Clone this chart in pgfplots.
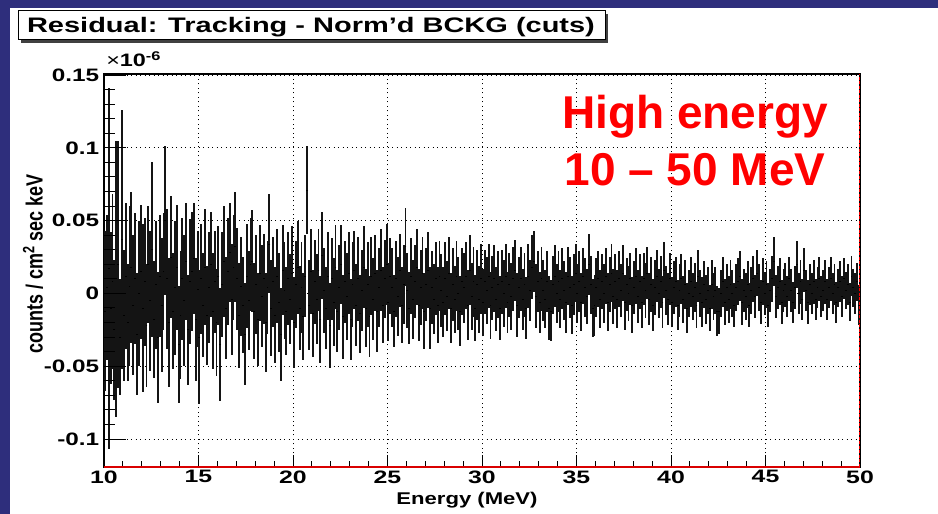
\documentclass[border=0pt]{standalone}
\usepackage{pgfplots}
\pgfplotsset{compat=1.18}
\usepackage{fontspec}
\setmainfont{Liberation Sans}
\definecolor{navy}{RGB}{46,46,124}
\pgfplotstableread{
x y e
10.05 -0.012 0.055
10.15 0.004 0.050
10.25 0.017 0.124
10.35 -0.010 0.052
10.45 0.008 0.060
10.55 -0.025 0.048
10.65 0.010 0.095
10.75 0.020 0.085
10.85 -0.030 0.040
10.95 0.037 0.089
11.05 -0.015 0.045
11.15 0.012 0.050
11.25 -0.020 0.040
11.35 0.005 0.055
11.45 0.018 0.052
11.55 -0.008 0.048
11.65 0.010 0.045
11.75 -0.028 0.042
11.85 0.000 0.050
11.95 0.015 0.046
12.05 -0.010 0.058
12.15 0.008 0.044
12.25 -0.022 0.042
12.35 0.020 0.040
12.45 -0.005 0.048
12.55 0.030 0.060
12.65 -0.018 0.040
12.75 0.006 0.044
12.85 -0.030 0.045
12.95 0.012 0.042
13.05 -0.008 0.046
13.15 0.015 0.040
13.25 0.050 0.051
13.35 0.010 0.048
13.45 -0.020 0.044
13.55 0.025 0.042
13.65 -0.012 0.040
13.75 0.004 0.046
13.85 0.018 0.043
13.95 -0.035 0.040
14.05 -0.015 0.044
14.15 0.010 0.042
14.25 -0.005 0.045
14.35 0.022 0.040
14.45 -0.025 0.038
14.55 0.008 0.043
14.65 0.015 0.041
14.75 0.024 0.038
14.85 -0.018 0.042
14.95 0.003 0.040
15.05 -0.030 0.046
15.15 0.010 0.038
15.25 -0.008 0.036
15.35 0.018 0.040
15.45 -0.015 0.034
15.55 0.004 0.038
15.65 0.020 0.036
15.75 -0.012 0.040
15.85 0.008 0.035
15.95 -0.020 0.037
16.05 0.012 0.034
16.15 -0.035 0.039
16.25 0.006 0.036
16.35 0.022 0.038
16.45 -0.010 0.035
16.55 0.015 0.037
16.65 0.028 0.034
16.75 -0.004 0.038
16.85 0.018 0.036
16.95 0.032 0.038
17.05 0.010 0.035
17.15 -0.015 0.036
17.25 0.005 0.034
17.35 -0.008 0.033
17.45 -0.028 0.035
17.55 0.012 0.036
17.65 -0.005 0.034
17.75 0.020 0.032
17.85 0.022 0.035
17.95 -0.012 0.033
18.05 0.006 0.034
18.15 -0.018 0.032
18.25 0.014 0.033
18.35 -0.002 0.035
18.45 0.010 0.031
18.55 -0.020 0.034
18.65 0.004 0.032
18.75 0.034 0.034
18.85 -0.010 0.033
18.95 0.008 0.031
19.05 -0.015 0.033
19.15 0.012 0.032
19.25 -0.006 0.034
19.35 -0.028 0.032
19.45 0.016 0.031
19.55 0.002 0.033
19.65 -0.012 0.030
19.75 0.010 0.032
19.85 -0.004 0.031
19.95 0.014 0.032
20.05 -0.020 0.031
20.15 0.006 0.030
20.25 0.018 0.032
20.35 -0.010 0.029
20.45 0.004 0.031
20.55 -0.016 0.030
20.65 0.012 0.028
20.75 0.071 0.030
20.85 -0.008 0.031
20.95 0.015 0.029
21.05 -0.014 0.030
21.15 0.008 0.029
21.25 -0.004 0.031
21.35 0.016 0.028
21.45 -0.018 0.030
21.55 0.026 0.030
21.65 0.002 0.029
21.75 -0.010 0.028
21.85 0.012 0.030
21.95 -0.022 0.029
22.05 0.010 0.028
22.15 -0.006 0.030
22.25 0.018 0.029
22.35 -0.012 0.028
22.45 0.004 0.029
22.55 0.020 0.027
22.65 -0.016 0.029
22.75 0.008 0.028
22.85 -0.002 0.030
22.95 0.014 0.028
23.05 -0.018 0.028
23.15 0.006 0.029
23.25 0.016 0.027
23.35 -0.008 0.028
23.45 0.010 0.029
23.55 -0.014 0.027
23.65 0.002 0.028
23.75 0.018 0.028
23.85 -0.010 0.027
23.95 0.006 0.029
24.05 -0.016 0.028
24.15 0.012 0.027
24.25 -0.004 0.028
24.35 0.014 0.026
24.45 -0.012 0.028
24.55 0.004 0.027
24.65 0.016 0.028
24.75 -0.008 0.026
24.85 0.010 0.027
24.95 0.020 0.028
25.05 -0.006 0.027
25.15 0.012 0.026
25.25 0.004 0.027
25.35 -0.012 0.025
25.45 0.010 0.026
25.55 -0.002 0.027
25.65 0.016 0.025
25.75 -0.008 0.026
25.85 0.006 0.027
25.95 0.032 0.027
26.05 0.002 0.026
26.15 -0.010 0.025
26.25 0.012 0.026
26.35 -0.004 0.027
26.45 0.008 0.025
26.55 0.018 0.026
26.65 -0.008 0.025
26.75 0.004 0.026
26.85 0.014 0.025
26.95 -0.012 0.026
27.05 0.006 0.025
27.15 0.016 0.026
27.25 -0.010 0.028
27.35 0.004 0.025
27.45 -0.004 0.024
27.55 0.010 0.025
27.65 -0.008 0.026
27.75 0.012 0.024
27.85 0.002 0.025
27.95 -0.006 0.024
28.05 0.010 0.025
28.15 -0.002 0.024
28.25 0.014 0.025
28.35 -0.010 0.024
28.45 0.006 0.025
28.55 -0.004 0.023
28.65 0.012 0.024
28.75 0.000 0.025
28.85 -0.012 0.024
28.95 0.008 0.023
29.05 0.004 0.024
29.15 0.012 0.023
29.25 -0.008 0.024
29.35 0.016 0.024
29.45 -0.002 0.023
29.55 0.008 0.024
29.65 -0.010 0.023
29.75 0.006 0.024
29.85 -0.004 0.023
29.95 0.010 0.024
30.05 -0.006 0.023
30.15 0.008 0.022
30.25 0.002 0.023
30.35 0.012 0.022
30.45 -0.008 0.023
30.55 0.004 0.022
30.65 0.010 0.023
30.75 -0.004 0.022
30.85 0.006 0.023
30.95 -0.010 0.022
31.05 0.008 0.022
31.15 0.000 0.023
31.25 0.012 0.022
31.35 -0.006 0.021
31.45 0.006 0.022
31.55 -0.002 0.023
31.65 0.010 0.022
31.75 0.016 0.021
31.85 -0.008 0.022
31.95 0.004 0.021
32.05 0.010 0.022
32.15 -0.004 0.021
32.25 0.006 0.022
32.35 -0.010 0.021
32.45 0.012 0.022
32.55 0.002 0.021
32.65 0.018 0.022
32.75 0.022 0.021
32.85 -0.002 0.022
32.95 0.008 0.021
33.05 -0.006 0.021
33.15 0.010 0.022
33.25 0.002 0.021
33.35 -0.004 0.020
33.45 0.008 0.021
33.55 -0.010 0.022
33.65 -0.012 0.021
33.75 0.006 0.020
33.85 0.012 0.021
33.95 0.000 0.020
34.05 0.008 0.021
34.15 -0.004 0.020
34.25 0.010 0.021
34.35 0.002 0.020
34.45 -0.006 0.021
34.55 0.012 0.020
34.65 0.004 0.021
34.75 -0.008 0.020
34.85 0.006 0.021
34.95 0.014 0.020
35.05 0.000 0.020
35.15 0.008 0.021
35.25 -0.006 0.020
35.35 0.012 0.019
35.45 0.004 0.020
35.55 -0.002 0.019
35.65 0.020 0.021
35.75 0.006 0.020
35.85 -0.010 0.020
35.95 -0.008 0.021
36.05 0.004 0.020
36.15 0.010 0.019
36.25 -0.004 0.020
36.35 0.008 0.019
36.45 0.000 0.020
36.55 0.012 0.019
36.65 -0.006 0.020
36.75 0.006 0.019
36.85 0.014 0.020
36.95 -0.002 0.019
37.05 0.008 0.019
37.15 -0.004 0.020
37.25 0.010 0.019
37.35 0.002 0.018
37.45 0.014 0.019
37.55 -0.006 0.019
37.65 0.006 0.018
37.75 0.000 0.019
37.85 0.010 0.018
37.95 -0.008 0.019
38.05 0.004 0.018
38.15 0.012 0.019
38.25 -0.002 0.018
38.35 0.008 0.019
38.45 -0.006 0.018
38.55 0.010 0.018
38.65 0.002 0.019
38.75 0.014 0.018
38.85 -0.004 0.018
38.95 0.006 0.019
39.05 -0.008 0.018
39.15 0.004 0.019
39.25 0.012 0.018
39.35 0.000 0.017
39.45 0.008 0.018
39.55 -0.006 0.018
39.65 0.016 0.019
39.75 0.002 0.017
39.85 -0.004 0.018
39.95 0.010 0.018
40.05 -0.006 0.017
40.15 0.004 0.018
40.25 0.008 0.017
40.35 -0.008 0.017
40.45 0.002 0.018
40.55 0.010 0.017
40.65 -0.004 0.016
40.75 0.006 0.017
40.85 -0.010 0.017
40.95 0.000 0.016
41.05 0.008 0.017
41.15 -0.002 0.016
41.25 0.004 0.017
41.35 -0.008 0.016
41.45 0.012 0.018
41.55 0.000 0.016
41.65 -0.006 0.017
41.75 0.006 0.016
41.85 -0.004 0.017
41.95 0.002 0.016
42.05 -0.010 0.016
42.15 0.006 0.017
42.25 -0.002 0.016
42.35 0.002 0.016
42.45 -0.012 0.017
42.55 -0.012 0.016
42.65 0.000 0.016
42.75 0.008 0.017
42.85 -0.006 0.016
42.95 0.004 0.016
43.05 -0.004 0.016
43.15 0.006 0.017
43.25 0.000 0.016
43.35 -0.008 0.015
43.45 0.004 0.016
43.55 0.008 0.016
43.65 0.012 0.017
43.75 -0.006 0.016
43.85 0.002 0.015
43.95 -0.002 0.016
44.05 0.006 0.016
44.15 -0.008 0.015
44.25 0.002 0.016
44.35 0.010 0.016
44.45 -0.002 0.015
44.55 0.014 0.016
44.65 0.004 0.016
44.75 -0.006 0.015
44.85 0.008 0.016
44.95 0.000 0.015
45.05 0.006 0.016
45.15 -0.008 0.015
45.25 0.002 0.015
45.35 0.010 0.016
45.45 0.022 0.017
45.55 -0.002 0.015
45.65 0.004 0.015
45.75 0.008 0.016
45.85 -0.006 0.015
45.95 0.002 0.015
46.05 0.006 0.015
46.15 -0.002 0.014
46.25 0.010 0.015
46.35 0.002 0.015
46.45 -0.006 0.014
46.55 0.004 0.015
46.65 0.020 0.016
46.75 0.000 0.014
46.85 0.008 0.015
46.95 -0.004 0.014
47.05 0.016 0.015
47.15 0.002 0.014
47.25 -0.006 0.015
47.35 0.006 0.014
47.45 0.000 0.014
47.55 0.008 0.015
47.65 -0.004 0.014
47.75 0.004 0.014
47.85 0.010 0.015
47.95 -0.002 0.014
48.05 0.002 0.014
48.15 0.008 0.015
48.25 -0.004 0.014
48.35 0.004 0.014
48.45 0.010 0.015
48.55 0.000 0.014
48.65 0.006 0.014
48.75 -0.006 0.014
48.85 0.004 0.013
48.95 0.008 0.014
49.05 -0.002 0.014
49.15 0.010 0.014
49.25 0.002 0.013
49.35 0.006 0.014
49.45 -0.006 0.013
49.55 0.012 0.014
49.65 0.004 0.013
49.75 0.000 0.014
49.85 0.008 0.013
49.95 -0.008 0.014
}\resid
\begin{document}
\begin{tikzpicture}
\fill[navy] (0,0) rectangle (938pt,514pt);
\useasboundingbox (0,0) rectangle (938pt,514pt);
\fill[white] (10pt,0) rectangle (938pt,506pt);
% title box
\fill[black!75] (21pt,471pt) rectangle (608pt,500pt);
\draw[black, line width=1pt, fill=white] (18pt,474pt) rectangle (605pt,503pt);
\node[anchor=base, inner sep=0pt, font=\fontsize{21}{21}\selectfont\bfseries, xscale=1.38] at (311pt,481pt) {Residual: Tracking - Norm'd BCKG (cuts)};
\begin{axis}[at={(104pt,47pt)}, anchor=south west, scale only axis,
  width=756pt, height=393pt,
  xmin=10, xmax=50, ymin=-0.1192, ymax=0.1507,
  xtick={10,15,...,50},
  ytick={-0.1,-0.05,0,0.05,0.1,0.15},
  yticklabels={-0.1,-0.05,0,0.05,0.1,0.15},
  minor x tick num=4, minor y tick num=4,
  tick align=inside, xtick pos=left, ytick pos=left,
  major tick length=12pt, minor tick length=6pt,
  tick style={black, line width=1pt},
  grid=major,
  major grid style={black, line width=1pt, dash pattern=on 1pt off 3.5pt},
  axis line style={black, line width=1.3pt},
  /pgf/number format/assume math mode=true,
  tick label style={font=\fontsize{18}{18}\selectfont\bfseries},
  xticklabel style={xscale=1.38},
  yticklabel style={xscale=1.35},
  clip=false,
]
\addplot[black, only marks, mark=-, mark size=0.95pt, mark options={line width=0.8pt},
  error bars/.cd, y dir=both, y explicit, error mark=none,
  error bar style={line width=1.9pt, black!92}]
  table[x=x, y=y, y error=e] {\resid};
\draw[red!85!black, line width=2.2pt] (rel axis cs:0,0) -- (rel axis cs:1,0);
\draw[red, line width=0.9pt, dash pattern=on 3pt off 1.5pt] ([xshift=-1pt]rel axis cs:1,0) -- ([xshift=-1pt]rel axis cs:1,1);
\end{axis}
\begin{axis}[at={(104pt,47pt)}, anchor=south west, scale only axis,
  width=756pt, height=393pt,
  xmin=10, xmax=50, ymin=-0.1192, ymax=0.1507,
  xtick=\empty, minor x tick num=0,
  ytick={-0.1,-0.05,0,0.05,0.1,0.15}, yticklabels={},
  minor y tick num=4,
  tick align=inside, ytick pos=left,
  major tick length=22pt, minor tick length=11pt,
  tick style={black, line width=1pt},
  axis line style={draw=none},
]
\end{axis}
\node[anchor=base west, inner sep=0pt, font=\fontsize{18}{18}\selectfont\bfseries, xscale=1.3] at (106pt,447pt) {{\mdseries ×}10\textsuperscript{-6}};
\node[inner sep=0pt, xscale=1.3, font=\fontsize{18}{18}\selectfont\bfseries] at (33pt,250pt) {\rotatebox{90}{counts / cm\textsuperscript{2} sec keV}};
\node[anchor=base, inner sep=0pt, font=\fontsize{17}{17}\selectfont\bfseries, xscale=1.3] at (467pt,9pt) {Energy (MeV)};
\node[anchor=base, inner sep=0pt, red, font=\fontsize{46}{46}\selectfont\bfseries] at (695pt,385pt) {High energy};
\node[anchor=base, inner sep=0pt, red, font=\fontsize{46}{46}\selectfont\bfseries] at (695pt,328pt) {10 – 50 MeV};
\end{tikzpicture}
\end{document}
